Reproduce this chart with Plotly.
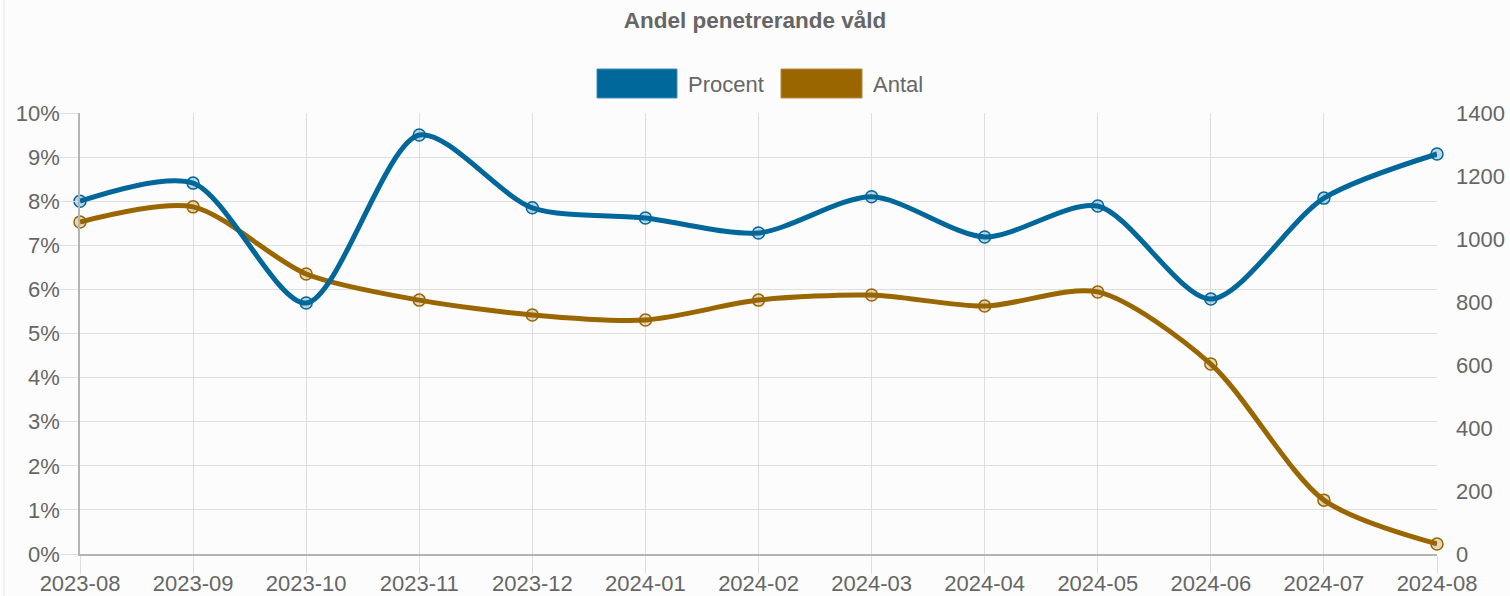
import plotly.graph_objects as go

months = ["2023-08", "2023-09", "2023-10", "2023-11", "2023-12", "2024-01", "2024-02",
          "2024-03", "2024-04", "2024-05", "2024-06", "2024-07", "2024-08"]
procent = [0.0800, 0.0841, 0.0569, 0.0950, 0.0785, 0.0762, 0.0728,
           0.0810, 0.0719, 0.0789, 0.0578, 0.0807, 0.0907]
antal = [1054, 1102, 889, 806, 759, 743, 806, 822, 787, 832, 603, 171, 32]

BLUE = "#00679a"
BROWN = "#996600"
FONT = "Liberation Sans, Arial, sans-serif"
GRID = "#dedede"

W, H = 1510, 596
L, R, T, B = 80, 73, 113, 42
pw, ph = W - L - R, H - T - B


def px(x):
    return (x - L) / pw


def py(y):
    return (H - B - y) / ph


fig = go.Figure()

fig.add_trace(go.Scatter(
    x=months, y=antal, name="Antal", yaxis="y", mode="lines+markers",
    line=dict(color=BROWN, width=5, shape="spline", smoothing=0.8),
    marker=dict(size=12, color="rgba(153,102,0,0.25)", line=dict(color=BROWN, width=1.5)),
    cliponaxis=False, showlegend=False,
))
fig.add_trace(go.Scatter(
    x=months, y=procent, name="Procent", yaxis="y2", mode="lines+markers",
    line=dict(color=BLUE, width=5, shape="spline", smoothing=0.8),
    marker=dict(size=12, color="rgba(0,103,154,0.25)", line=dict(color=BLUE, width=1.5)),
    cliponaxis=False, showlegend=False,
))

shapes = [
    dict(type="rect", xref="paper", yref="paper", x0=px(597), x1=px(677), y0=py(98), y1=py(69),
         fillcolor=BLUE, line=dict(color="#3d8fb8", width=1)),
    dict(type="rect", xref="paper", yref="paper", x0=px(781), x1=px(862), y0=py(98), y1=py(69),
         fillcolor=BROWN, line=dict(color="#b8893d", width=1)),
    dict(type="line", xref="paper", yref="paper", x0=px(4), x1=px(4), y0=py(0), y1=py(596),
         line=dict(color="#e6e6e6", width=1)),
]
annotations = [
    dict(text="Procent", xref="paper", yref="paper", x=px(686), y=py(84), xanchor="left",
         yanchor="middle", showarrow=False, font=dict(family=FONT, size=22, color="#666666")),
    dict(text="Antal", xref="paper", yref="paper", x=px(871), y=py(84), xanchor="left",
         yanchor="middle", showarrow=False, font=dict(family=FONT, size=22, color="#666666")),
]

fig.update_layout(
    width=W, height=H,
    margin=dict(l=L, r=R, t=T, b=B, autoexpand=False),
    paper_bgcolor="#fcfcfc", plot_bgcolor="#fcfcfc",
    font=dict(family=FONT, size=22, color="#666666"),
    title=dict(text="<b>Andel penetrerande våld</b>", x=0.5, xref="container", xanchor="center",
               y=1 - 20 / H, yref="container", yanchor="middle",
               font=dict(family=FONT, size=22.5, color="#666666")),
    xaxis=dict(type="category", range=[0, 12], showgrid=True, gridcolor=GRID, gridwidth=1,
               ticks="outside", ticklen=18, tickcolor=GRID, showline=True, linecolor="#b4b4b4",
               linewidth=1.5, tickfont=dict(size=22, color="#666666"), fixedrange=True,
               automargin=False, ticklabelstandoff=-9),
    yaxis=dict(range=[0, 1400], dtick=200, side="right", showgrid=False, zeroline=False,
               ticks="", ticklabelstandoff=18, showline=False, automargin=False,
               tickfont=dict(size=22, color="#666666")),
    yaxis2=dict(range=[0, 0.10], dtick=0.01, tickformat=".0%", side="left", overlaying="y",
                showgrid=True, gridcolor=GRID, zeroline=False, ticks="outside", ticklen=18,
                tickcolor=GRID, showline=True, linecolor="#b4b4b4", linewidth=1.5,
                ticklabelstandoff=-4, automargin=False,
                tickfont=dict(size=22, color="#666666")),
    shapes=shapes, annotations=annotations,
)

fig.write_html("out.html", config={"displayModeBar": False},
               post_script="document.body.style.margin='0';")
